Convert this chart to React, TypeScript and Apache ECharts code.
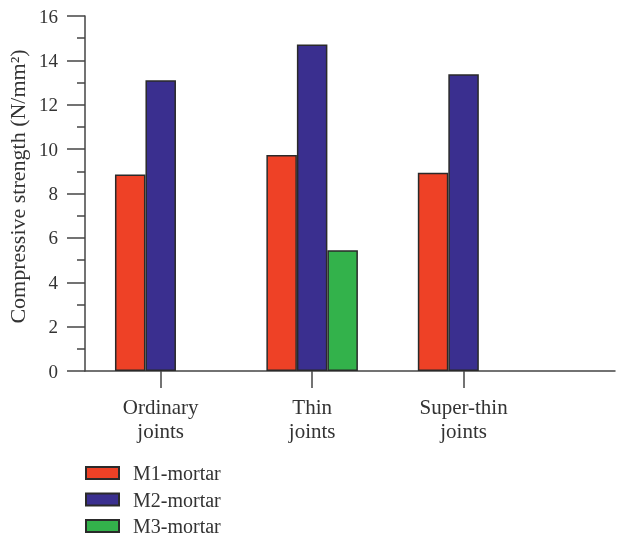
import React, { useEffect, useRef } from "react";
import * as echarts from "echarts";

const categories = ["Ordinary joints", "Thin joints", "Super-thin joints"];
const seriesNames = ["M1-mortar", "M2-mortar", "M3-mortar"];
const m1 = [8.86, 9.73, 8.94];
const m2 = [13.1, 14.72, 13.38];
const m3: (number | null)[] = [null, 5.44, null];
const yTicks = [0, 2, 4, 6, 8, 10, 12, 14, 16];
const colors = ["#EE4126", "#3A2F8F", "#33B24B"];

const FONT = "'Liberation Serif', 'DejaVu Serif', serif";

function toPoints(vals: (number | null)[]) {
  const out: [number, number][] = [];
  vals.forEach((v, i) => {
    if (v !== null) out.push([i + 0.5, v]);
  });
  return out;
}

export default function App() {
  const ref = useRef<HTMLDivElement>(null);
  useEffect(() => {
    if (!ref.current) return;
    const chart = echarts.init(ref.current, undefined, { renderer: "svg" });
    const catPos = categories.map((_, i) => i + 0.5);
    const allSeries = [m1, m2, m3];
    chart.setOption({
      animation: false,
      grid: { left: 85, right: 3, top: 16, bottom: 166, outerBoundsMode: "none", containLabel: false },
      legend: {
        orient: "vertical",
        left: 85,
        top: 463,
        height: 80,
        padding: 0,
        icon: "rect",
        itemWidth: 33,
        itemHeight: 12,
        itemGap: 6.5,
        data: seriesNames,
        textStyle: {
          fontFamily: FONT,
          fontSize: 20,
          lineHeight: 19,
          color: "#333",
          padding: [0, 0, 0, 9],
        },
      },
      xAxis: {
        type: "value",
        min: 0,
        max: categories.length + 0.5,
        splitLine: { show: false },
        axisLine: { lineStyle: { color: "#444", width: 1.5 } },
        axisTick: {
          show: true,
          length: 17,
          customValues: catPos,
          lineStyle: { color: "#444", width: 1.5 },
        },
        axisLabel: {
          customValues: catPos,
          formatter: (v: number) => {
            const name = categories[Math.floor(v)] || "";
            return name.replace(" ", "\n");
          },
          fontFamily: FONT,
          fontSize: 21,
          color: "#333",
          lineHeight: 24,
          margin: 24,
        },
      },
      yAxis: {
        type: "value",
        min: yTicks[0],
        max: yTicks[yTicks.length - 1],
        interval: 2,
        name: "Compressive strength (N/mm²)",
        nameLocation: "middle",
        nameGap: 53,
        nameTextStyle: { fontFamily: FONT, fontSize: 22, color: "#333", padding: [0, 0, 0, 14] },
        splitLine: { show: false },
        axisLine: { show: true, lineStyle: { color: "#444", width: 1.5 } },
        axisTick: { show: true, length: 18, lineStyle: { color: "#444", width: 1.5 } },
        minorTick: { show: true, splitNumber: 2, length: 8, lineStyle: { color: "#444", width: 1.5 } },
        axisLabel: { fontFamily: FONT, fontSize: 19, color: "#333", margin: 27 },
      },
      series: seriesNames.map((name, i) => ({
        name,
        type: "bar",
        data: toPoints(allSeries[i]),
        barWidth: 30.5,
        barGap: "0%",
        itemStyle: { color: colors[i], borderColor: "#2a2a2a", borderWidth: 1.5 },
      })),
    });
    return () => chart.dispose();
  }, []);
  return (
    <div
      ref={ref}
      style={{ position: "fixed", left: 0, top: 0, width: 618, height: 537 }}
    />
  );
}
